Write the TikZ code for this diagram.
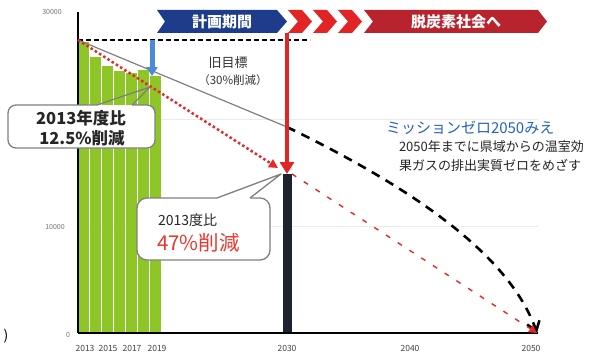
\documentclass[tikz,border=0pt]{standalone}
\usepackage{fontspec}
\setmainfont{Noto Sans CJK JP}
\usetikzlibrary{arrows.meta}
\definecolor{barg}{RGB}{141,198,38}
\definecolor{darkbar}{RGB}{28,34,48}
\definecolor{navyh}{RGB}{30,60,140}
\definecolor{redv}{RGB}{226,36,36}
\definecolor{redd}{RGB}{184,35,46}
\definecolor{redc}{RGB}{230,40,40}
\definecolor{bluea}{RGB}{74,138,214}
\definecolor{bluet}{RGB}{40,96,200}
\definecolor{redt}{RGB}{232,56,47}
\begin{document}
\begin{tikzpicture}[x=1pt,y=-1pt,
  every node/.style={inner sep=0pt, outer sep=0pt},
  axislbl/.style={font=\fontsize{7}{8}\selectfont, text=black!55},
  yearlbl/.style={font=\fontsize{8.5}{9}\selectfont, text=black!75},
  hdr/.style={font=\fontsize{15}{16}\selectfont\bfseries, text=white},
  callout/.style={draw=black!50, line width=1.3},
  bigbold/.style={font=\fontsize{16.5}{18}\selectfont\bfseries, text=black!85},
  desc/.style={font=\fontsize{13}{14}\selectfont, text=black!85, anchor=west}]
\useasboundingbox (0,0) rectangle (593,353);
\fill[white] (0,0) rectangle (593,353);

% gridlines
\draw[black!8, line width=1] (78,119) -- (538,119);
\draw[black!8, line width=1] (78,226) -- (538,226);

% bars 2013-2019
\foreach \t [count=\i from 0] in {42,57,66,71,73,70,76}
  \fill[barg] ({78+12*\i},\t) rectangle ({78+12*\i+10.5},333);
% 2030 bar
\fill[darkbar] (283,174) rectangle (292,333);

% axes
\draw[line width=1.2] (78,12) -- (78,333);
\draw[line width=2] (78,333) -- (538,333);

% named points
\coordinate (base) at (78,40);
\coordinate (dashend) at (310,40);
\coordinate (old30) at (287,127);
\coordinate (zero) at (537,333);
\coordinate (tgt) at (278,168);
\coordinate (bartop) at (292,174);
\coordinate (rtop) at (287,33);
\coordinate (rtip) at (287,174);
\coordinate (btop) at (152,40);
\coordinate (btip) at (152,76);

% lines
\draw[line width=1.3, dash pattern=on 5pt off 3pt] (base) -- (dashend);
\draw[black!50, line width=1.2] (base) -- (old30);
\draw[line width=2.6, dash pattern=on 9pt off 7pt, -{Straight Barb[length=9pt,width=13pt]}]
  (old30) .. controls (400,182) and (508,250) .. (zero);
\draw[redc, line width=2.5, dash pattern=on 2.5pt off 2.5pt, -{Triangle[length=9pt,width=9pt]}] (base) -- (tgt);
\draw[redc, line width=1.4, dash pattern=on 5pt off 9pt, -{Triangle[length=8pt,width=8pt]}] (bartop) -- (zero);
\draw[redv, line width=4, -{Triangle[length=12pt,width=14pt]}] (rtop) -- (rtip);
\draw[bluea, line width=5, -{Triangle[length=9pt,width=11pt]}] (btop) -- (btip);

% header
\fill[navyh] (157,10) -- (277,10) -- (287,21.5) -- (277,33) -- (157,33) -- (165,21.5) -- cycle;
\foreach \x in {288,313,338}
  \fill[redv] (\x,10) -- ++(14,0) -- ++(10,11.5) -- ++(-10,11.5) -- ++(-14,0) -- ++(10,-11.5) -- cycle;
\fill[redd] (364,10) -- (538,10) -- (547,21.5) -- (538,33) -- (364,33) -- (373,21.5) -- cycle;
\node[hdr] (plan) at (222,21.5) {計画期間};
\node[hdr] (decarb) at (456,21.5) {脱炭素社会へ};

% callout 1
\fill[white, rounded corners=8] (8,105) rectangle (155,148);
\draw[callout, rounded corners=8] (97,105) -- (8,105) -- (8,148) -- (155,148) -- (155,105) -- (132,105);
\draw[callout, line join=round] (97,105) -- (150,87) -- (132,105);
\node[bigbold] (c1a) at (81,118) {2013年度比};
\node[bigbold] (c1b) at (82,138) {12.5\%削減};

% callout 2
\fill[white, rounded corners=10] (137,198) rectangle (270,260);
\draw[callout, rounded corners=10] (217,198) -- (137,198) -- (137,260) -- (270,260) -- (270,198) -- (250,198);
\draw[callout, line join=round] (217,198) -- (281,174) -- (250,198);
\node[font=\fontsize{14}{15}\selectfont, text=black!85, anchor=west] (c2a) at (158,220) {2013度比};
\node[font=\fontsize{20.5}{22}\selectfont, text=redt, anchor=west] (c2b) at (157,243) {47\%削減};

% old target
\node[font=\fontsize{13}{14}\selectfont, text=black!80] (old) at (228,63) {旧目標};
\node[font=\fontsize{11.5}{12}\selectfont, text=black!80] (old2) at (233,80) {（30\%削減）};

% mission zero
\node[font=\fontsize{15}{16}\selectfont, text=bluet, anchor=west] (mz) at (386,128) {ミッションゼロ2050みえ};
\node[desc] (d1) at (399,147) {2050年までに県域からの温室効};
\node[desc] (d2) at (399,165) {果ガスの排出実質ゼロをめざす};

% axis labels
\node[axislbl] (y30) at (52,12) {30000};
\node[axislbl] (y10) at (55,227) {10000};
\node[axislbl] (y0) at (68,335) {0};
\node[yearlbl] (x13) at (85,348) {2013};
\node[yearlbl] (x15) at (108,348) {2015};
\node[yearlbl] (x17) at (132,348) {2017};
\node[yearlbl] (x19) at (157,348) {2019};
\node[yearlbl] (x30) at (287,348) {2030};
\node[yearlbl] (x40) at (410,348) {2040};
\node[yearlbl] (x50) at (531,348) {2050};
\node[font=\fontsize{14}{15}\selectfont] (paren) at (6,336) {)};
\end{tikzpicture}
\end{document}
